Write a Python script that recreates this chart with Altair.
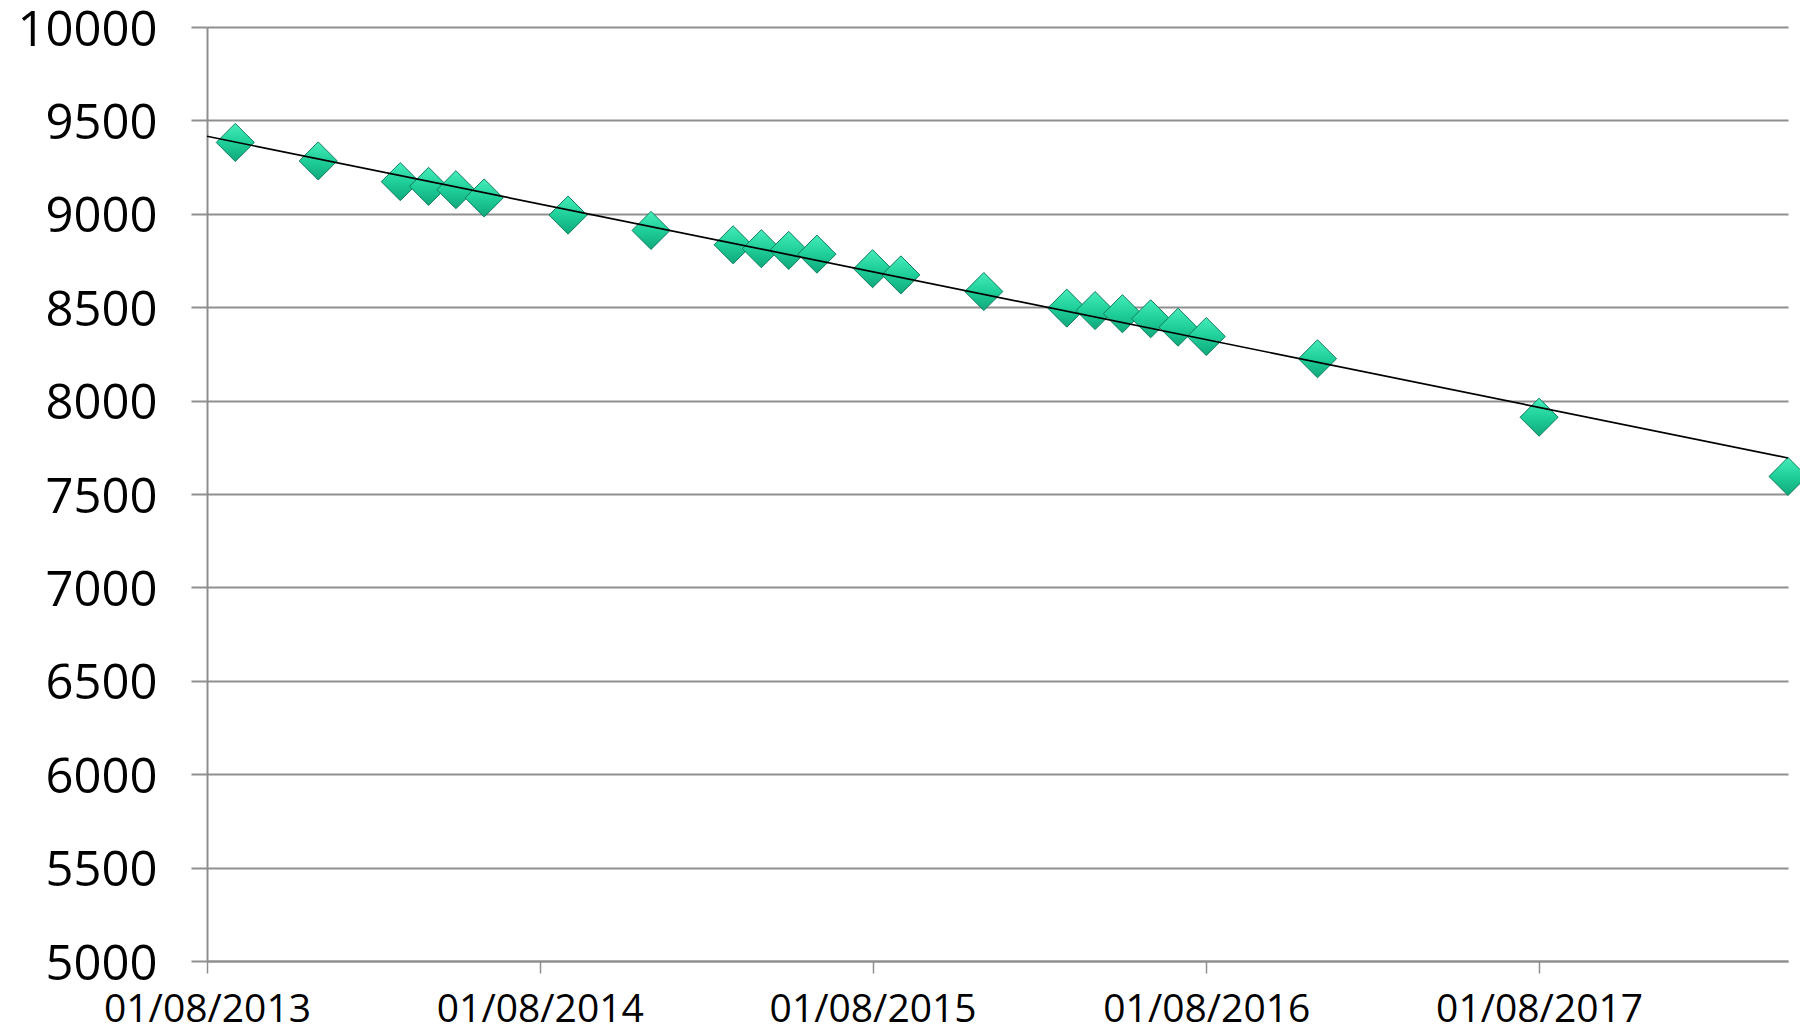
import altair as alt
import pandas as pd

# ---- data ----
dates = [
    "2013-09-01", "2013-12-01", "2014-03-01", "2014-04-01", "2014-05-01", "2014-06-01",
    "2014-09-01", "2014-12-01", "2015-03-01", "2015-04-01", "2015-05-01", "2015-06-01",
    "2015-08-01", "2015-09-01", "2015-12-01", "2016-03-01", "2016-04-01", "2016-05-01",
    "2016-06-01", "2016-07-01", "2016-08-01", "2016-12-01", "2017-08-01", "2018-05-01",
]
values = [
    9382, 9283, 9172, 9147, 9129, 9085,
    8993, 8911, 8834, 8813, 8804, 8784,
    8706, 8673, 8584, 8495, 8482, 8465,
    8438, 8393, 8343, 8224, 7911, 7594,
]
tick_years = [2013, 2014, 2015, 2016, 2017]
y_ticks = [5000, 5500, 6000, 6500, 7000, 7500, 8000, 8500, 9000, 9500, 10000]


def ms(s):
    return int(pd.Timestamp(s).timestamp() * 1000)


df = pd.DataFrame({"t": [ms(d) for d in dates], "value": values})

x_start = ms("2013-08-01")
x_end = ms("2018-05-01")

GRID = "#8f8f8f"
FONT = "Open Sans"

x_enc = alt.X(
    "t:T",
    scale=alt.Scale(type="utc", domain=[alt.DateTime(year=2013, month=8, date=1, utc=True),
                                        alt.DateTime(year=2018, month=5, date=1, utc=True)]),
    axis=alt.Axis(
        values=[alt.DateTime(year=y, month=8, date=1, utc=True) for y in tick_years],
        format="%d/%m/%Y",
        title=None,
        grid=False,
        domain=True,
        domainColor=GRID,
        domainWidth=2,
        ticks=True,
        tickSize=12,
        tickColor=GRID,
        tickWidth=1.5,
        labelFont=FONT,
        labelFontSize=39,
        labelColor="#000000",
        labelPadding=17,
        labelLimit=0,
        labelFlush=False,
        labelOverlap=False,
    ),
)
y_enc = alt.Y(
    "value:Q",
    scale=alt.Scale(domain=[5000, 10000], nice=False, zero=False),
    axis=alt.Axis(
        values=y_ticks,
        format="d",
        title=None,
        grid=True,
        gridColor=GRID,
        gridWidth=2,
        domain=True,
        domainColor=GRID,
        domainWidth=2,
        ticks=True,
        tickSize=16,
        tickColor=GRID,
        tickWidth=2,
        labelFont=FONT,
        labelFontSize=49,
        labelColor="#000000",
        labelPadding=34,
        labelOffset=3,
        labelLimit=0,
        labelOverlap=False,
    ),
)

base = alt.Chart(df)

gradient = alt.LinearGradient(
    gradient="linear",
    stops=[
        alt.GradientStop(color="#45ecbb", offset=0),
        alt.GradientStop(color="#1fcf99", offset=0.5),
        alt.GradientStop(color="#10a87c", offset=1),
    ],
    x1=0, x2=0, y1=0, y2=1,
)

points = base.mark_point(
    shape="diamond",
    filled=True,
    size=1450,
    color=gradient,
    stroke="#0f7d5e",
    strokeWidth=1,
    opacity=1,
).encode(x=x_enc, y=y_enc)

trend = base.transform_regression(
    "t", "value", extent=[x_start, x_end]
).mark_line(color="#000000", strokeWidth=1.7).encode(x=x_enc, y=y_enc)

chart = (
    alt.layer(points, trend)
    .properties(
        width=1581,
        height=934,
        autosize=alt.AutoSizeParams(type="none"),
        padding={"left": 199, "top": 19, "right": 12, "bottom": 70},
        background="#ffffff",
    )
    .configure_view(stroke=None)
)

chart.save("out.html", embed_options={"renderer": "svg", "actions": False})
